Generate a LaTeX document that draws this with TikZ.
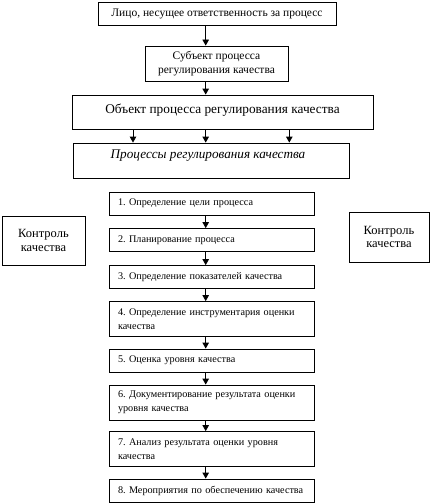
\documentclass[tikz,border=0pt]{standalone}
\usepackage{fontspec}
\setmainfont{Liberation Serif}
\usetikzlibrary{arrows.meta}
\frenchspacing
\begin{document}
\begin{tikzpicture}[x=1pt,y=-1pt,
  box/.style={draw, line width=0.8pt, inner sep=0pt, align=center},
  bigtext/.style={font=\fontsize{11.5}{14.5}\selectfont},
  stepbox/.style={draw, line width=0.8pt, inner xsep=9pt, inner ysep=0pt,
    minimum width=205pt, text width=187pt, align=left,
    font=\fontsize{10.2}{14}\selectfont},
  arr/.style={-{Triangle[width=6.5pt,length=6pt]}, line width=0.8pt}]
\useasboundingbox (0,0) rectangle (434,503);

\node[box, bigtext, minimum width=238pt, minimum height=23pt] (A) at (217,13.5)
  {Лицо, несущее ответственность за процесс};
\node[box, bigtext, minimum width=143pt, minimum height=35pt] (B) at (216.5,63.5)
  {Субъект процесса\\регулирования качества};
\node[box, font=\fontsize{13.3}{15}\selectfont, minimum width=301pt, minimum height=34pt,
  text depth=6pt] (C) at (222.5,112) {Объект процесса регулирования качества};
\node[box, minimum width=276pt, minimum height=35pt,
  label={[anchor=north, yshift=-4pt, xshift=-3pt, font=\fontsize{13.2}{15}\selectfont\itshape]north:Процессы регулирования качества}]
  (D) at (211,160.5) {};

\node[box, font=\fontsize{12.5}{13.5}\selectfont, minimum width=83pt, minimum height=49pt] (KL) at (43.5,240.5)
  {Контроль\\качества};
\node[box, font=\fontsize{12.5}{13.5}\selectfont, minimum width=80pt, minimum height=50pt] (KR) at (389,237)
  {Контроль\\качества};

\node[stepbox, minimum height=23pt] (s1) at (211.5,203.5) {1. Определение цели процесса};
\node[stepbox, minimum height=23pt] (s2) at (211.5,240) {2. Планирование процесса};
\node[stepbox, minimum height=23pt] (s3) at (211.5,277) {3. Определение показателей качества};
\node[stepbox, minimum height=35pt] (s4) at (211.5,319) {4. Определение инструментария оценки\\качества};
\node[stepbox, minimum height=23pt] (s5) at (211.5,360.5) {5. Оценка уровня качества};
\node[stepbox, minimum height=35pt] (s6) at (211.5,402.5) {6. Документирование результата оценки\\уровня качества};
\node[stepbox, minimum height=35pt] (s7) at (211.5,449) {7. Анализ результата оценки уровня\\качества};
\node[stepbox, minimum height=23pt] (s8) at (211.5,490.5) {\mbox{8. Мероприятия по обеспечению качества}};

\coordinate (ax) at (205.7,0);
\coordinate (axl) at (133,0);
\coordinate (axr) at (289.3,0);

\draw[arr] (A.south -| ax) -- (B.north -| ax);
\draw[arr] (B.south -| ax) -- (C.north -| ax);
\draw[arr] (C.south -| axl) -- (D.north -| axl);
\draw[arr] (C.south -| ax) -- (D.north -| ax);
\draw[arr] (C.south -| axr) -- (D.north -| axr);
\draw[arr] (s1.south -| ax) -- (s2.north -| ax);
\draw[arr] (s2.south -| ax) -- (s3.north -| ax);
\draw[arr] (s3.south -| ax) -- (s4.north -| ax);
\draw[arr] (s4.south -| ax) -- (s5.north -| ax);
\draw[arr] (s5.south -| ax) -- (s6.north -| ax);
\draw[arr] (s6.south -| ax) -- (s7.north -| ax);
\draw[arr] (s7.south -| ax) -- (s8.north -| ax);
\end{tikzpicture}
\end{document}
